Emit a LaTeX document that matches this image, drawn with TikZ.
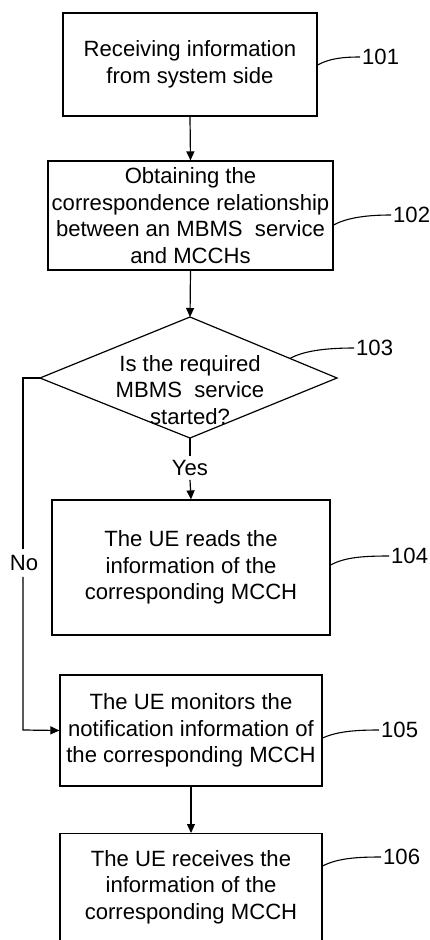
\documentclass[tikz,border=0pt]{standalone}
\usepackage{fontspec}
\setmainfont{Liberation Sans}
\usetikzlibrary{arrows.meta,calc}
\begin{document}
\begin{tikzpicture}[x=1pt,y=-1pt,
  every node/.style={font=\fontsize{22.1}{26.5}\selectfont, align=center, inner sep=0pt},
  box/.style={draw, line width=1.2pt},
  line/.style={line width=1.2pt},
  conn/.style={line width=1.2pt, -{Triangle[length=9pt,width=8pt]}},
  lead/.style={line width=1.1pt},
  lbl/.style={anchor=west, inner sep=2pt}]
\useasboundingbox (0,0) rectangle (429,940);
\clip (0,0) rectangle (429,940);
% boxes
\node[box, minimum width=254pt, minimum height=103pt] (b101) at (190,64.5) {Receiving information\\from system side};
\node[box, minimum width=285pt, minimum height=109pt] (b102) at (190.5,215.5) {Obtaining the\\correspondence relationship\\between an MBMS\ \ service\\and MCCHs};
% diamond
\coordinate (dT) at (190,317);
\coordinate (dR) at (337,378);
\coordinate (dB) at (190,438);
\coordinate (dL) at (40,378);
\draw[line] (dT) -- (dR) -- (dB) -- (dL) -- cycle;
\node (d103) at (190,390) {Is the required\\MBMS\ \ service\\started?};
\node[box, minimum width=278pt, minimum height=135pt] (b104) at (191,567.5) {The UE reads the\\information of the\\corresponding MCCH};
\node[box, minimum width=262pt, minimum height=111pt] (b105) at (191,730.5) {The UE monitors the\\notification information of\\the corresponding MCCH};
\node[box, minimum width=262pt, minimum height=140pt, anchor=north] (b106) at (191,833) {};
\node (t106) at (191,887) {The UE receives the\\information of the\\corresponding MCCH};
% connectors
\draw[conn] (b101.south) -- (b102.north);
\draw[conn] (b102.south) -- (dT);
\node[fill=white, inner ysep=4pt, inner xsep=2pt] (yes) at (190,468) {Yes};
\draw[line] (dB) -- (yes.north);
\draw[conn] (yes.south) -- (b104.north);
\node[fill=white, inner ysep=6pt, inner xsep=1pt] (no) at (24,563) {No};
\coordinate (nT) at (23,378);
\coordinate (nB) at (23,730);
\draw[line] (dL) -- (nT) -- (nT |- no.north);
\draw[conn] (nB |- no.south) -- (nB) -- (b105.west);
\draw[conn] (b105.south) -- (b106.north);
% reference labels
\node[lbl] (l101) at (360,57) {101};
\node[lbl] (l102) at (391,215) {102};
\node[lbl] (l103) at (354,348) {103};
\node[lbl] (l104) at (389,556) {104};
\node[lbl] (l105) at (379,730) {105};
\node[lbl] (l106) at (381,857) {106};
\draw[lead] (b101.east |- 0,65) .. controls (330,58) and (345,57) .. (l101.west);
\draw[lead] (b102.east |- 0,225) .. controls (348,217) and (370,215) .. (l102.west);
\draw[lead] ($(dT)!0.68!(dR)$) .. controls (305,350) and (330,348) .. (l103.west);
\draw[lead] (b104.east |- 0,565) .. controls (345,557) and (365,556) .. (l104.west);
\draw[lead] (b105.east |- 0,738) .. controls (338,731) and (358,730) .. (l105.west);
\draw[lead] (b106.east |- 0,866) .. controls (338,858) and (358,857) .. (l106.west);
\end{tikzpicture}
\end{document}
